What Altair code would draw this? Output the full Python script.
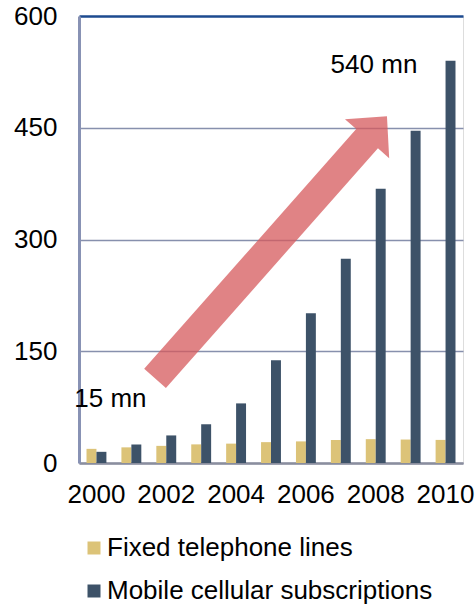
import altair as alt
import pandas as pd

# Telephone lines vs. mobile subscriptions, millions
years = [str(y) for y in range(2000, 2011)]
fixed_lines = [19, 21, 23, 25, 26, 28, 29, 31, 32, 31.5, 31]
mobile_subs = [15, 25, 37, 52, 80, 138, 201, 274, 368, 446, 540]
series_names = ["Fixed telephone lines", "Mobile cellular subscriptions"]
series_colors = ["#DCC378", "#3D5268"]
y_ticks = [0, 150, 300, 450, 600]
x_tick_years = ["2000", "2002", "2004", "2006", "2008", "2010"]

# Growth arrow, tail and tip in (year, millions)
arrow_tail = (2001.7, 113)
arrow_tip = (2008.3, 466)

FONT = "Liberation Sans"
FS = 26
W, H = 384, 447

bars_df = pd.DataFrame({
    "year": years * 2,
    "series": [series_names[0]] * len(years) + [series_names[1]] * len(years),
    "value": fixed_lines + mobile_subs,
})

y_scale = alt.Scale(domain=[0, 600], nice=False, zero=True)
xq_scale = alt.Scale(domain=[1999.5, 2010.5], nice=False, zero=False)

bars = alt.Chart(bars_df).mark_bar().encode(
    x=alt.X("year:O", sort=years,
            scale=alt.Scale(paddingInner=0.43, paddingOuter=0.215),
            axis=alt.Axis(values=x_tick_years, title=None, labelAngle=0,
                          labelFontSize=FS, labelFont=FONT, labelColor="black",
                          labelPadding=18, ticks=False, grid=False,
                          domainColor="#8a8e9e", domainWidth=2.5)),
    xOffset=alt.XOffset("series:N", sort=series_names,
                        scale=alt.Scale(paddingInner=0, paddingOuter=0)),
    y=alt.Y("value:Q", scale=y_scale,
            axis=alt.Axis(values=y_ticks, title=None, labelFontSize=FS,
                          labelFont=FONT, labelColor="black", labelPadding=22,
                          ticks=False, domainColor="#8892b4", domainWidth=3,
                          grid=True,
                          gridColor=alt.condition("datum.value == 600",
                                                  alt.value("#1d4a8f"),
                                                  alt.value("#8790ad")),
                          gridWidth=alt.condition("datum.value == 600",
                                                  alt.value(2.5),
                                                  alt.value(1.6)))),
    color=alt.Color("series:N", sort=series_names,
                    scale=alt.Scale(domain=series_names, range=series_colors),
                    legend=alt.Legend(orient="none", legendX=2, legendY=519,
                                      direction="vertical", title=None,
                                      symbolType="square", symbolSize=169,
                                      symbolStrokeWidth=0, labelFontSize=FS,
                                      labelFont=FONT, labelColor="black",
                                      labelLimit=0, labelOffset=0,
                                      rowPadding=17, padding=0)),
)

# Arrow drawn as one filled symbol, pointing along +x, then rotated
shaft_len, head_len = 320.0, 30.0
shaft_half, head_half = 14.5, 29.5
half = (shaft_len + head_len) / 2
s = half

def n(v):
    return f"{v / s:.4f}"

base_x = -half + shaft_len
arrow_path = (
    f"M {n(-half)} {n(-shaft_half)} L {n(base_x)} {n(-shaft_half)} "
    f"L {n(base_x)} {n(-head_half)} L {n(half)} 0 "
    f"L {n(base_x)} {n(head_half)} L {n(base_x)} {n(shaft_half)} "
    f"L {n(-half)} {n(shaft_half)} Z"
)

arrow_df = pd.DataFrame({
    "xq": [(arrow_tail[0] + arrow_tip[0]) / 2],
    "yq": [(arrow_tail[1] + arrow_tip[1]) / 2],
})
arrow = alt.Chart(arrow_df).mark_point(
    shape=arrow_path, filled=True, size=(2 * s) ** 2, angle=311.5,
    color="#d55a5c", opacity=0.75, strokeWidth=0,
).encode(
    x=alt.X("xq:Q", scale=xq_scale, axis=None),
    y=alt.Y("yq:Q", scale=y_scale),
)

labels_df = pd.DataFrame({
    "xq": [2000.4, 2007.95],
    "yq": [75, 523.5],
    "text": [f"{mobile_subs[0]} mn", f"{mobile_subs[-1]} mn"],
})
labels = alt.Chart(labels_df).mark_text(
    font=FONT, fontSize=FS, color="black", align="center", baseline="alphabetic",
).encode(
    x=alt.X("xq:Q", scale=xq_scale, axis=None),
    y=alt.Y("yq:Q", scale=y_scale),
    text="text:N",
)

chart = alt.layer(bars, arrow, labels).resolve_scale(x="independent").properties(
    width=W, height=H,
    autosize=alt.AutoSizeParams(type="none"),
    padding={"left": 79, "top": 16, "right": 13, "bottom": 143},
).configure_view(
    stroke="#1d4a8f", strokeWidth=2,
).configure(
    font=FONT, background="white",
)

chart.save("out.html", embed_options={"renderer": "svg", "actions": False})
